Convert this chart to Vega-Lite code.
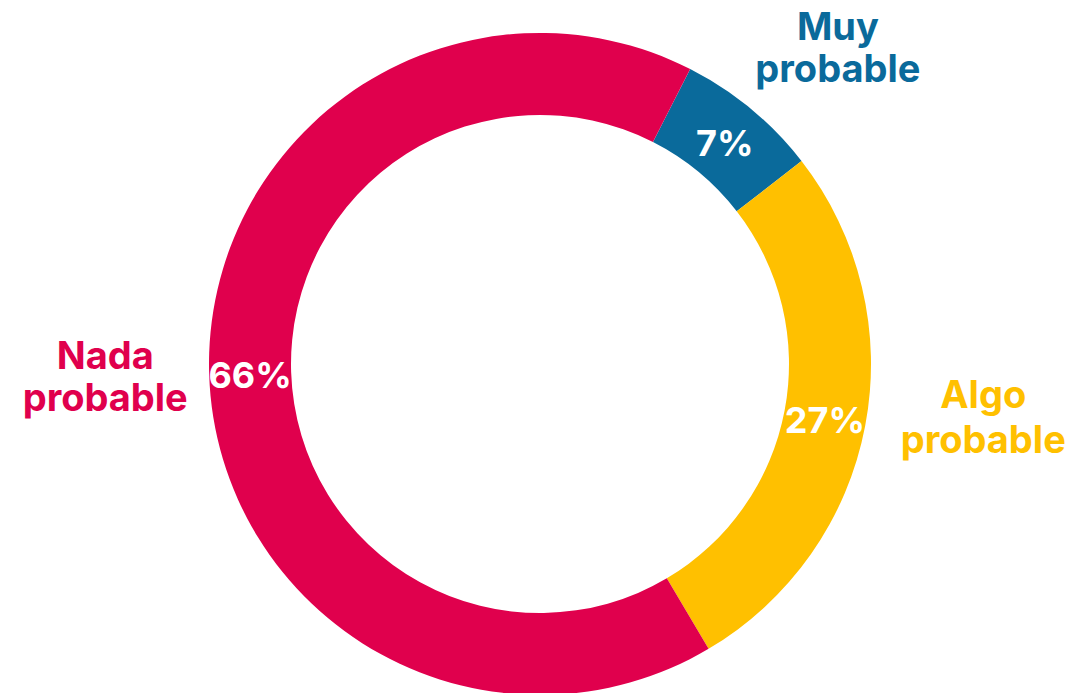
{
  "$schema": "https://vega.github.io/schema/vega-lite/v6.json",
  "width": 1072,
  "height": 658,
  "autosize": "none",
  "padding": {"left": 4, "top": 35, "right": 0, "bottom": 0},
  "background": "white",
  "view": {"stroke": null},
  "data": {
    "values": [
      {"categoria": "Muy probable", "etiqueta": "Muy\nprobable", "valor": 7, "pct": "7%", "orden": 1},
      {"categoria": "Algo probable", "etiqueta": "Algo\nprobable", "valor": 27, "pct": "27%", "orden": 2},
      {"categoria": "Nada probable", "etiqueta": "Nada\nprobable", "valor": 66, "pct": "66%", "orden": 3}
    ]
  },
  "encoding": {
    "theta": {"field": "valor", "type": "quantitative", "stack": true, "scale": {"range": [0.471, 6.754]}},
    "order": {"field": "orden", "type": "quantitative"},
    "color": {
      "field": "categoria",
      "type": "nominal",
      "scale": {"domain": ["Muy probable", "Algo probable", "Nada probable"], "range": ["#0A6A9B", "#FFC000", "#E0004D"]},
      "legend": null
    }
  },
  "layer": [
    {"mark": {"type": "arc", "outerRadius": 331, "innerRadius": 249, "stroke": null}},
    {
      "mark": {"type": "text", "radius": 290, "dy": 4, "font": "Inter", "fontWeight": "bold", "fontSize": 36, "align": "center", "baseline": "middle"},
      "encoding": {"text": {"field": "pct"}, "color": {"value": "white"}}
    },
    {
      "mark": {"type": "text", "radius": 400, "dx": 43, "dy": -27, "font": "Inter", "fontWeight": "bold", "fontSize": 38, "lineBreak": "\n", "lineHeight": 42, "align": "center", "baseline": "middle"},
      "encoding": {"text": {"condition": {"test": "datum.categoria === 'Muy probable'", "field": "etiqueta"}, "value": ""}}
    },
    {
      "mark": {"type": "text", "radius": 440, "dx": 11, "dy": -49, "font": "Inter", "fontWeight": "bold", "fontSize": 38, "lineBreak": "\n", "lineHeight": 45, "align": "center", "baseline": "middle"},
      "encoding": {"text": {"condition": {"test": "datum.categoria === 'Algo probable'", "field": "etiqueta"}, "value": ""}}
    },
    {
      "mark": {"type": "text", "radius": 435, "dx": 0, "dy": -20, "font": "Inter", "fontWeight": "bold", "fontSize": 38, "lineBreak": "\n", "lineHeight": 42, "align": "center", "baseline": "middle"},
      "encoding": {"text": {"condition": {"test": "datum.categoria === 'Nada probable'", "field": "etiqueta"}, "value": ""}}
    }
  ]
}
